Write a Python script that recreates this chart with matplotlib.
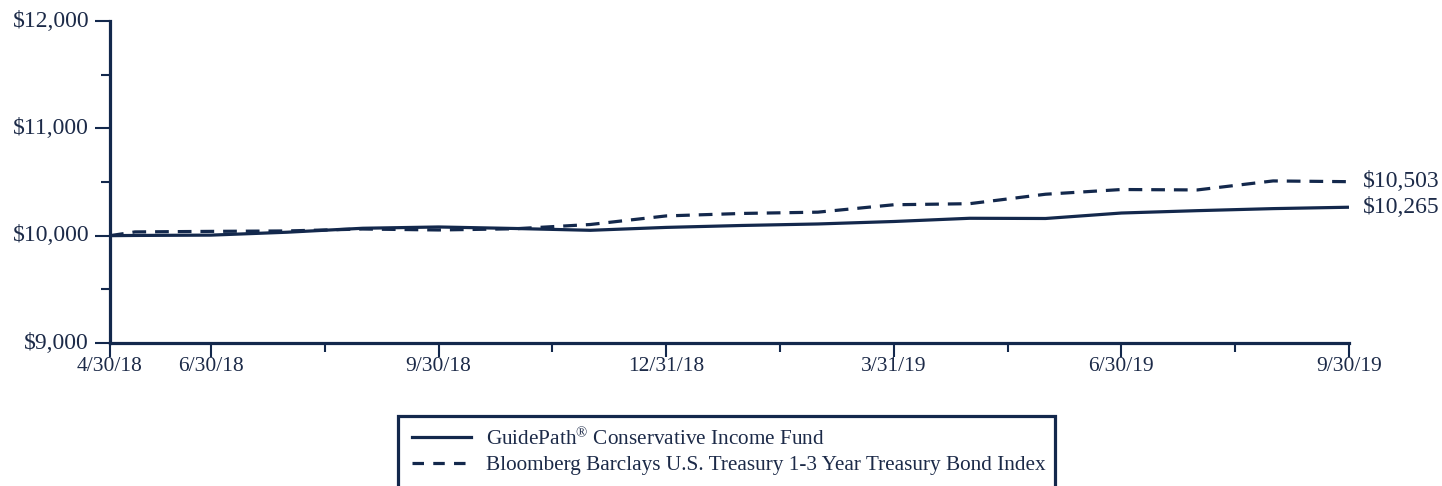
import matplotlib
matplotlib.use("Agg")
import matplotlib.pyplot as plt
from matplotlib.lines import Line2D
from matplotlib.patches import Rectangle

plt.rcParams['font.family'] = ['Liberation Serif', 'DejaVu Serif']
plt.rcParams['mathtext.fontset'] = 'custom'
plt.rcParams['mathtext.rm'] = 'Liberation Serif'
plt.rcParams['mathtext.it'] = 'Liberation Serif:italic'
plt.rcParams['mathtext.bf'] = 'Liberation Serif:bold'

# months relative to 6/30/18 (first point is the inception)
x_months = [-1.33, -1, 0, 1, 2, 3, 4, 5, 6, 7, 8, 9, 10, 11, 12, 13, 14, 15]
fund = [10000, 10002, 10005, 10032, 10069, 10081, 10067, 10050, 10077, 10095,
        10109, 10132, 10162, 10160, 10211, 10233, 10252, 10265]
index = [10000, 10035, 10040, 10044, 10062, 10053, 10064, 10104, 10184, 10207,
         10219, 10288, 10298, 10386, 10430, 10426, 10510, 10503]
fund_name = "GuidePath$^{\\mathrm{\u00ae}}$ Conservative Income Fund"
index_name = "Bloomberg Barclays U.S. Treasury 1-3 Year Treasury Bond Index"
major_tick_pos = [-1.33, 0, 3, 6, 9, 12, 15]
major_tick_labels = ['4/30/18', '6/30/18', '9/30/18', '12/31/18', '3/31/19', '6/30/19', '9/30/19']
minor_tick_pos = [1.5, 4.5, 7.5, 10.5, 13.5]
y_ticks = [9000, 10000, 11000, 12000]
y_labels = ['$9,000', '$10,000', '$11,000', '$12,000']
y_minor = [9500, 10500, 11500]

NAVY = '#13284c'
TXT = '#1c2a48'
W, H = 1442, 486

fig = plt.figure(figsize=(W/100, H/100), dpi=100)
ax = fig.add_axes([110/W, 1-343/H, (1349-110)/W, (343-21)/H])

lw = 2.3
ax.plot(x_months, fund, color=NAVY, lw=lw, solid_capstyle='butt')
ax.plot(x_months, index, color=NAVY, lw=lw, dashes=(4.3, 2.8))

ax.set_xlim(x_months[0], x_months[-1])
ax.set_ylim(9000, 12000)
for s in ['top', 'right']:
    ax.spines[s].set_visible(False)
for s in ['left', 'bottom']:
    ax.spines[s].set_linewidth(2.3)
    ax.spines[s].set_color(NAVY)

ax.set_xticks(major_tick_pos)
ax.set_xticklabels(major_tick_labels)
ax.set_xticks(minor_tick_pos, minor=True)
ax.set_yticks(y_ticks)
ax.set_yticklabels(y_labels)
ax.set_yticks(y_minor, minor=True)
ax.tick_params(axis='x', which='major', length=10, width=1.5, color=NAVY,
               labelsize=15.5, labelcolor=TXT, pad=0)
ax.tick_params(axis='x', which='minor', length=6.5, width=1.5, color=NAVY)
ax.tick_params(axis='y', which='major', length=11, width=1.5, color=NAVY,
               labelsize=17, labelcolor=TXT, pad=4)
ax.tick_params(axis='y', which='minor', length=6.5, width=1.5, color=NAVY)
for lab in ax.get_yticklabels():
    lab.set_verticalalignment('center')

ax.annotate(f"${index[-1]:,}", xy=(x_months[-1], index[-1]), xytext=(10, 0),
            textcoords='offset points', va='center', ha='left', fontsize=17,
            color=TXT, annotation_clip=False)
ax.annotate(f"${fund[-1]:,}", xy=(x_months[-1], fund[-1]), xytext=(10, 0),
            textcoords='offset points', va='center', ha='left', fontsize=17,
            color=TXT, annotation_clip=False)

# legend box (open at the bottom, as in the reference)
fig.add_artist(Rectangle((398/W, -0.05), (1055-398)/W, 0.05 + 1-416/H,
                         transform=fig.transFigure, fill=False,
                         edgecolor=NAVY, lw=2.3))
handles = [Line2D([], [], color=NAVY, lw=lw),
           Line2D([], [], color=NAVY, lw=lw, dashes=(3.6, 2.9))]
leg = fig.legend(handles, [fund_name, index_name], loc='upper left',
                 bbox_to_anchor=(406/W, 1-421/H), fontsize=15.3,
                 frameon=False, borderpad=0.3,
                 handlelength=2.75, handletextpad=0.7, labelspacing=0.28,
                 borderaxespad=0)
for t in leg.get_texts():
    t.set_color(TXT)

fig.savefig('out.png', dpi=100)
